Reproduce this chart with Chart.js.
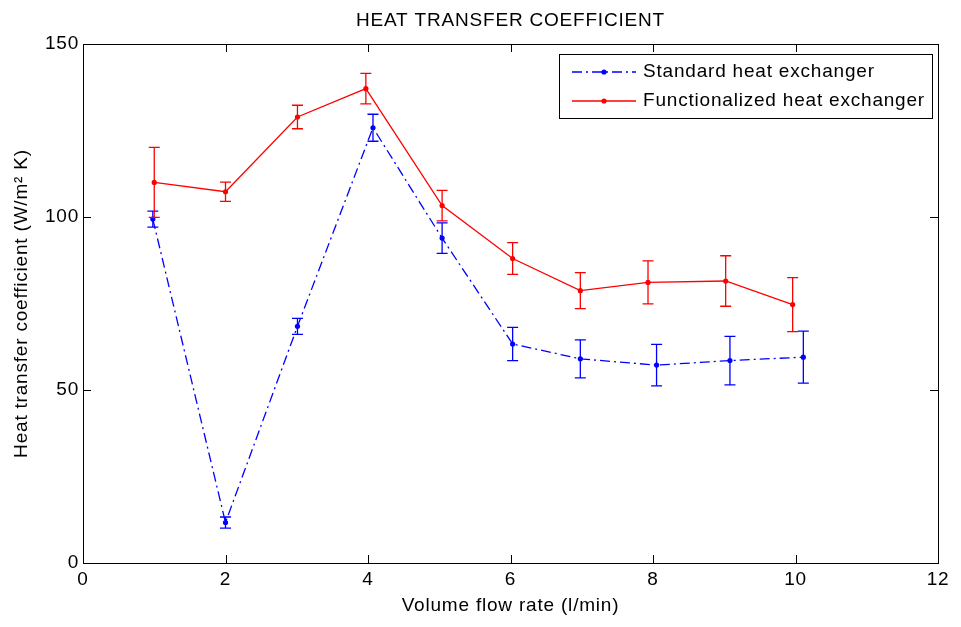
<!DOCTYPE html>
<html>
<head>
<meta charset="utf-8">
<script src="https://cdn.jsdelivr.net/npm/chart.js@4.4.1/dist/chart.umd.min.js"></script>
<style>
html,body{margin:0;padding:0;background:#fff;}
#wrap{width:961px;height:627px;}
</style>
</head>
<body>
<div id="wrap"><canvas id="c" width="961" height="627"></canvas></div>
<script>
// ---- data ----
const titleText = "HEAT TRANSFER COEFFICIENT";
const xTitle = "Volume flow rate (l/min)";
const yTitle = "Heat transfer coefficient (W/m\u00B2 K)";
const xTicks = [0, 2, 4, 6, 8, 10, 12];
const yTicks = [0, 50, 100, 150];

const stdLabel = "Standard heat exchanger";
const stdFlow = [0.98, 2.0, 3.01, 4.07, 5.04, 6.03, 6.98, 8.05, 9.08, 10.11];
const stdValue = [99.4, 11.7, 68.4, 125.8, 93.9, 63.3, 59.0, 57.2, 58.5, 59.5];
const stdError = [2.3, 1.6, 2.3, 3.9, 4.4, 4.8, 5.5, 6.0, 7.0, 7.5];

const funLabel = "Functionalized heat exchanger";
const funFlow = [1.0, 2.0, 3.01, 3.97, 5.04, 6.03, 6.98, 7.93, 9.02, 9.96];
const funValue = [110.0, 107.3, 128.9, 137.1, 103.3, 88.0, 78.7, 81.1, 81.5, 74.7];
const funError = [10.1, 2.8, 3.4, 4.4, 4.4, 4.6, 5.2, 6.2, 7.3, 7.8];

const FONT = "'Liberation Sans', Arial, Helvetica, sans-serif";
const FSIZE = 19;
const SPACING = '0.8px';

function pts(xs, ys){ return xs.map((x,i)=>({x:x, y:ys[i]})); }

const spacingPlugin = {
  id: 'spacing',
  beforeUpdate(chart){ chart.ctx.letterSpacing = SPACING; },
  beforeLayout(chart){ chart.ctx.letterSpacing = SPACING; },
  beforeDraw(chart){ chart.ctx.letterSpacing = SPACING; }
};

const errorBars = {
  id: 'errorBars',
  afterDatasetsDraw(chart){
    const ctx = chart.ctx, xs = chart.scales.x, ys = chart.scales.y;
    chart.data.datasets.forEach(ds=>{
      ctx.save();
      ctx.strokeStyle = ds.borderColor;
      ctx.lineWidth = 1.3;
      ds.data.forEach((p,i)=>{
        const e = ds.errors[i];
        const px = xs.getPixelForValue(p.x);
        const y1 = ys.getPixelForValue(p.y + e);
        const y2 = ys.getPixelForValue(p.y - e);
        ctx.beginPath();
        ctx.moveTo(px, y1); ctx.lineTo(px, y2);
        ctx.moveTo(px-5.5, y1); ctx.lineTo(px+5.5, y1);
        ctx.moveTo(px-5.5, y2); ctx.lineTo(px+5.5, y2);
        ctx.stroke();
      });
      ctx.restore();
    });
  }
};

const boxAndTicks = {
  id: 'boxAndTicks',
  afterDraw(chart){
    const ctx = chart.ctx, a = chart.chartArea, xs = chart.scales.x, ys = chart.scales.y;
    ctx.save();
    ctx.strokeStyle = '#000';
    ctx.lineWidth = 1;
    ctx.strokeRect(Math.round(a.left)+0.5, Math.round(a.top)+0.5, Math.round(a.right-a.left), Math.round(a.bottom-a.top));
    ctx.beginPath();
    const L = 8;
    xTicks.forEach(v=>{
      const px = Math.round(xs.getPixelForValue(v))+0.5;
      ctx.moveTo(px, a.bottom); ctx.lineTo(px, a.bottom-L);
      ctx.moveTo(px, a.top); ctx.lineTo(px, a.top+L);
    });
    yTicks.forEach(v=>{
      const py = Math.round(ys.getPixelForValue(v))+0.5;
      ctx.moveTo(a.left, py); ctx.lineTo(a.left+L, py);
      ctx.moveTo(a.right, py); ctx.lineTo(a.right-L, py);
    });
    ctx.stroke();

    // legend
    const lx = 559, ly = 54, lw = 373, lh = 64;
    ctx.fillStyle = '#fff';
    ctx.fillRect(lx, ly, lw, lh);
    ctx.strokeRect(lx+0.5, ly+0.5, lw, lh);
    const rows = [72, 101];
    chart.data.datasets.forEach((ds,i)=>{
      const y = rows[i];
      ctx.save();
      ctx.strokeStyle = ds.borderColor;
      ctx.lineWidth = 1.3;
      ctx.setLineDash(ds.borderDash || []);
      ctx.beginPath(); ctx.moveTo(572, y); ctx.lineTo(636, y); ctx.stroke();
      ctx.setLineDash([]);
      ctx.fillStyle = ds.borderColor;
      ctx.beginPath(); ctx.arc(604, y, 2.6, 0, Math.PI*2); ctx.fill();
      ctx.restore();
      ctx.fillStyle = '#000';
      ctx.letterSpacing = SPACING;
      ctx.font = FSIZE + "px " + FONT;
      ctx.textBaseline = 'middle';
      ctx.textAlign = 'left';
      ctx.fillText(ds.label, 643, y);
    });
    ctx.restore();
  }
};

new Chart(document.getElementById('c'), {
  type: 'line',
  data: {
    datasets: [
      {
        label: stdLabel,
        data: pts(stdFlow, stdValue),
        errors: stdError,
        borderColor: '#0000ff',
        backgroundColor: '#0000ff',
        borderWidth: 1.3,
        borderDash: [10, 4, 2, 4],
        pointRadius: 2.6,
        pointBorderWidth: 0,
        fill: false,
        tension: 0
      },
      {
        label: funLabel,
        data: pts(funFlow, funValue),
        errors: funError,
        borderColor: '#ff0000',
        backgroundColor: '#ff0000',
        borderWidth: 1.3,
        pointRadius: 2.6,
        pointBorderWidth: 0,
        fill: false,
        tension: 0
      }
    ]
  },
  options: {
    responsive: false,
    animation: false,
    layout: { padding: { left: 0, right: 23, top: 0, bottom: 0 } },
    plugins: {
      legend: { display: false },
      tooltip: { enabled: false },
      title: {
        display: true,
        fullSize: false,
        text: titleText,
        color: '#000',
        font: { family: FONT, size: FSIZE, weight: 'normal', lineHeight: 1.2 },
        padding: { top: 9.3, bottom: 11.9 }
      }
    },
    scales: {
      x: {
        type: 'linear',
        min: 0, max: 12,
        afterBuildTicks(s){ s.ticks = xTicks.map(v=>({value:v})); },
        afterFit(s){ s.height = 64; },
        grid: { display: false, drawTicks: false },
        border: { display: false },
        ticks: { color: '#000', font: { family: FONT, size: FSIZE }, padding: 5, maxRotation: 0 },
        title: { display: true, text: xTitle, color: '#000', font: { family: FONT, size: FSIZE }, padding: { top: 0, bottom: 10 } }
      },
      y: {
        type: 'linear',
        min: 0, max: 150,
        afterBuildTicks(s){ s.ticks = yTicks.map(v=>({value:v})); },
        afterFit(s){ s.width = 83; },
        grid: { display: false, drawTicks: false },
        border: { display: false },
        ticks: { color: '#000', font: { family: FONT, size: FSIZE }, padding: 4 },
        title: { display: true, text: yTitle, color: '#000', font: { family: FONT, size: FSIZE }, padding: { top: 10, bottom: 0 } }
      }
    }
  },
  plugins: [spacingPlugin, errorBars, boxAndTicks]
});
</script>
</body>
</html>
